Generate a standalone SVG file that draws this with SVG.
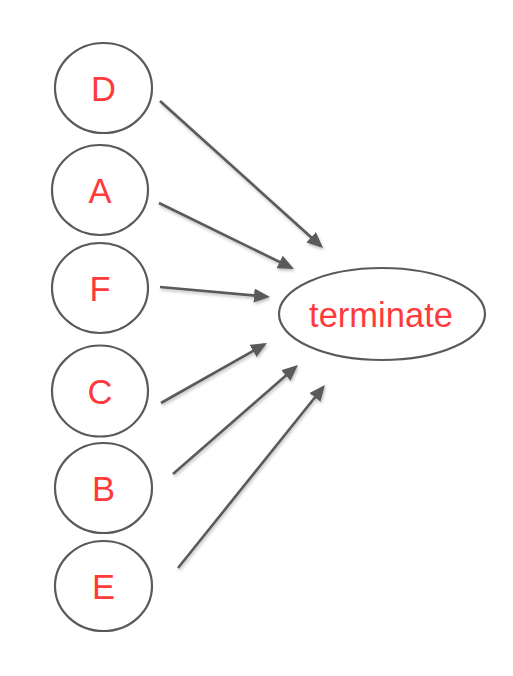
<svg xmlns="http://www.w3.org/2000/svg" width="513" height="676" viewBox="0 0 513 676">
<style>
.n{fill:#fff;stroke:#5a5a5a;stroke-width:2.2}
.t{fill:#ff3a3a;font-family:"Liberation Sans",Arial,sans-serif;font-size:34.5px;text-anchor:middle}
.e{stroke:#5a5a5a;stroke-width:2.6;fill:none;marker-end:url(#ah)}
</style>
<defs>
<marker id="ah" markerUnits="userSpaceOnUse" markerWidth="18" markerHeight="15" refX="13" refY="7" orient="auto">
<path d="M0,0 L16,7 L0,14 z" fill="#5a5a5a"/>
</marker>
<filter id="sh" x="-10%" y="-10%" width="130%" height="130%">
<feDropShadow dx="1" dy="2" stdDeviation="1.5" flood-color="#000" flood-opacity="0.25"/>
</filter>
</defs>
<rect width="513" height="676" fill="#fff"/>
<g id="edges" filter="url(#sh)">
<line class="e" x1="160" y1="101" x2="320.8" y2="246"/>
<line class="e" x1="159" y1="203" x2="291.3" y2="267.7"/>
<line class="e" x1="160" y1="287" x2="267" y2="296.7"/>
<line class="e" x1="161" y1="403" x2="264.4" y2="344.5"/>
<line class="e" x1="173" y1="474" x2="295.7" y2="367"/>
<line class="e" x1="178" y1="568" x2="323.1" y2="387.3"/>
</g>
<g id="D"><ellipse class="n" cx="103.5" cy="88" rx="48.5" ry="45"/><text class="t" x="103.5" y="101">D</text></g>
<g id="A"><ellipse class="n" cx="100" cy="190" rx="48" ry="45"/><text class="t" x="100" y="203">A</text></g>
<g id="F"><ellipse class="n" cx="100" cy="288" rx="48" ry="45"/><text class="t" x="100" y="301">F</text></g>
<g id="C"><ellipse class="n" cx="100" cy="391" rx="48" ry="45.5"/><text class="t" x="100" y="404">C</text></g>
<g id="B"><ellipse class="n" cx="103.5" cy="488" rx="48.5" ry="45"/><text class="t" x="103.5" y="501">B</text></g>
<g id="E"><ellipse class="n" cx="103.5" cy="586" rx="48.5" ry="45"/><text class="t" x="103.5" y="599">E</text></g>
<g id="terminate"><ellipse class="n" cx="382" cy="314" rx="103" ry="46"/><text class="t" x="381" y="327">terminate</text></g>
</svg>
